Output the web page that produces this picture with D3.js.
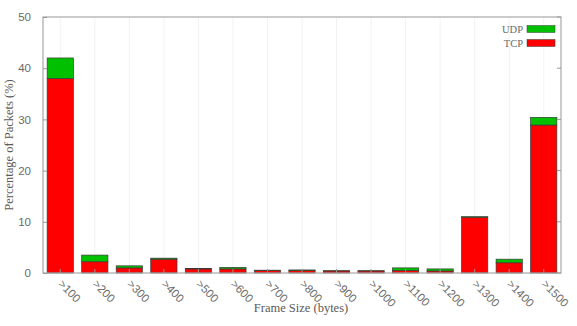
<!DOCTYPE html>
<html>
<head>
<meta charset="utf-8">
<script src="https://cdn.jsdelivr.net/npm/d3@7"></script>
<style>
  body { margin: 0; background: #fff; }
  svg { font-family: "Liberation Serif", "Times New Roman", serif; }
</style>
</head>
<body>
<svg id="chart" width="577" height="326"></svg>
<script>
// Frame size buckets and the share of packets (%) per protocol
const categories = [">100", ">200", ">300", ">400", ">500", ">600", ">700", ">800", ">900", ">1000", ">1100", ">1200", ">1300", ">1400", ">1500"];
const tcpValues = [38.0, 2.2, 1.0, 2.7, 0.8, 0.8, 0.5, 0.5, 0.4, 0.4, 0.5, 0.4, 10.9, 2.0, 28.9];
const udpValues = [4.0, 1.3, 0.4, 0.2, 0.1, 0.3, 0.05, 0.1, 0.05, 0.05, 0.5, 0.4, 0.1, 0.7, 1.5];
const yTicks = [0, 10, 20, 30, 40, 50];
const seriesNames = ["TCP", "UDP"];
const seriesColors = { TCP: "#ff0000", UDP: "#00c000" };

const rows = categories.map((c, i) => ({ cat: c, TCP: tcpValues[i], UDP: udpValues[i] }));

const svg = d3.select("#chart");
const margin = { left: 43, right: 16, top: 17, bottom: 53 };
const W = 577, H = 326;
const iw = W - margin.left - margin.right;
const ih = H - margin.top - margin.bottom;

const g = svg.append("g").attr("transform", `translate(${margin.left},${margin.top})`);

const x = d3.scaleBand().domain(categories).range([0, iw]).paddingInner(0.24).paddingOuter(0.12);
const y = d3.scaleLinear().domain([0, 50]).range([ih, 0]);

// faint grid
g.append("g").selectAll("line").data(categories).join("line")
  .attr("x1", d => x(d) + x.bandwidth() / 2).attr("x2", d => x(d) + x.bandwidth() / 2)
  .attr("y1", 0).attr("y2", ih).attr("stroke", "#f2f2f2").attr("stroke-width", 1);

// stacked bars
const stack = d3.stack().keys(seriesNames)(rows);
g.append("g").selectAll("g").data(stack).join("g")
  .attr("fill", s => seriesColors[s.key])
  .selectAll("rect").data(s => s).join("rect")
  .attr("x", d => x(d.data.cat))
  .attr("width", x.bandwidth())
  .attr("y", d => y(d[1]))
  .attr("height", d => Math.max(0, y(d[0]) - y(d[1])))
  .attr("stroke", "#3a3a3a").attr("stroke-width", 0.7);

// frame
g.append("rect").attr("x", 0).attr("y", 0).attr("width", iw).attr("height", ih)
  .attr("fill", "none").attr("stroke", "#a8a8a8").attr("stroke-width", 1.2);

const tickColor = "#999";
const labelColor = "#6a6a6a";
// y axis left
const yAxis = g.append("g").call(d3.axisLeft(y).tickValues(yTicks).tickSize(4).tickPadding(8));
yAxis.select(".domain").remove();
yAxis.selectAll("line").attr("stroke", tickColor).attr("x2", 4).attr("x1", 0);
yAxis.selectAll("text").attr("fill", labelColor).style("font-size", "11.5px");
// y ticks mirrored on right
g.append("g").selectAll("line").data(yTicks).join("line")
  .attr("x1", iw - 4).attr("x2", iw).attr("y1", d => y(d)).attr("y2", d => y(d))
  .attr("stroke", tickColor);

// x axis
const xAxis = g.append("g").attr("transform", `translate(0,${ih})`)
  .call(d3.axisBottom(x).tickSize(0).tickPadding(0));
xAxis.select(".domain").remove();
xAxis.selectAll("text")
  .attr("fill", labelColor).style("font-size", "11.5px")
  .attr("text-anchor", "start")
  .attr("dy", "0.35em")
  .attr("transform", "translate(0,9) rotate(45)");
g.append("g").selectAll("line").data(categories).join("line")
  .attr("x1", d => x(d) + x.bandwidth() / 2).attr("x2", d => x(d) + x.bandwidth() / 2)
  .attr("y1", ih).attr("y2", ih - 4).attr("stroke", tickColor);

// axis titles
svg.append("text").attr("transform", `translate(13,${margin.top + ih / 2}) rotate(-90)`)
  .attr("text-anchor", "middle").attr("fill", "#5a5a5a").style("font-size", "12.5px")
  .text("Percentage of Packets (%)");
svg.append("text").attr("x", margin.left + iw / 2 - 1).attr("y", 312)
  .attr("text-anchor", "middle").attr("fill", "#5a5a5a").style("font-size", "12.5px")
  .text("Frame Size (bytes)");

// legend
const legend = svg.append("g").attr("transform", `translate(${margin.left + iw - 6},29)`);
["UDP", "TCP"].forEach((k, i) => {
  const lg = legend.append("g").attr("transform", `translate(0,${i * 14})`);
  lg.append("rect").attr("x", -28).attr("y", -3.5).attr("width", 28).attr("height", 7)
    .attr("fill", seriesColors[k]).attr("stroke", "#3a3a3a").attr("stroke-width", 0.5);
  lg.append("text").attr("x", -32).attr("y", 0).attr("dy", "0.35em")
    .attr("text-anchor", "end").attr("fill", labelColor).style("font-size", "10.5px").text(k);
});
</script>
</body>
</html>
